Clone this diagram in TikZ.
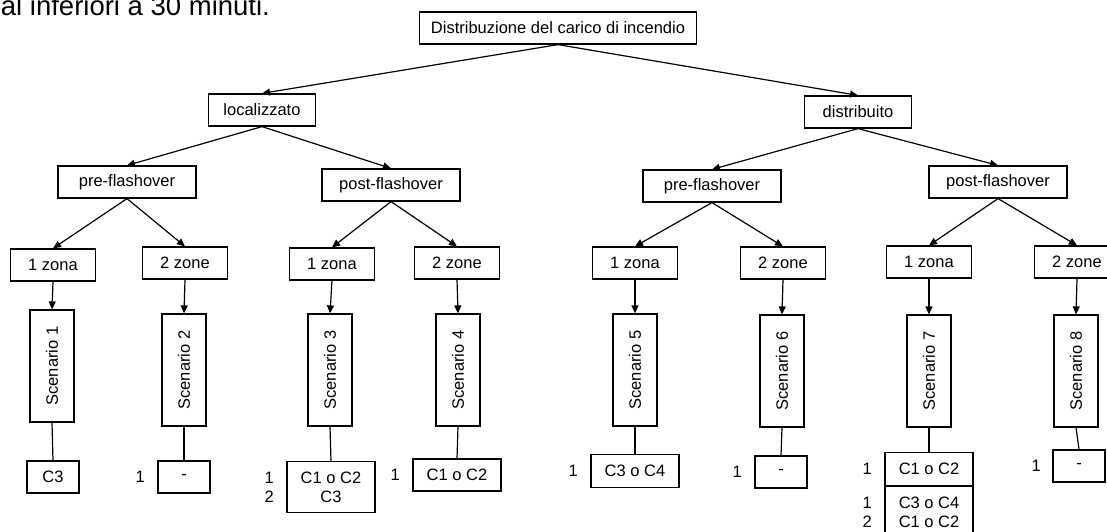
\documentclass[tikz,border=0pt]{standalone}
\usepackage{fontspec}
\setmainfont{Liberation Sans}
\usepackage{graphicx}
\usetikzlibrary{positioning,arrows.meta}

\tikzset{
	box/.style={draw, rectangle, line width=1.2pt, inner sep=0pt, minimum height=32pt, align=center},
	level/.style={box, minimum width=107pt},
	phase/.style={box, minimum width=138pt},
	zona/.style={box, minimum width=85pt},
	scen/.style={box, minimum width=44pt, minimum height=112pt},
	res/.style={box, minimum width=52pt},
	wideres/.style={box, minimum width=88pt},
	num/.style={inner sep=0pt, align=left},
}

\begin{document}
\begin{tikzpicture}[->, >={Triangle[length=8pt,width=7pt]}, x=1pt, y=-1pt, line width=1.2pt, font=\fontsize{16.5}{19}\selectfont]
		\useasboundingbox (0,0) rectangle (1107,531);
		\clip (0,0) rectangle (1107,531);

		\node[anchor=base west, font=\fontsize{27.5}{32}\selectfont] (intro) at (-3,15) {al inferiori a 30 minuti.};

		\node[box, minimum width=277pt] (root) at (558,28) {Distribuzione del carico di incendio};

		\node[level] (loc) at (262,110) {localizzato};
		\node[level] (dist) at (858,112) {distribuito};

		\node[phase] (lpre) at (127,182) {pre-flashover};
		\node[phase] (lpost) at (391,185) {post-flashover};
		\node[phase] (dpre) at (712,186) {pre-flashover};
		\node[phase] (dpost) at (998,182) {post-flashover};

		\node[zona] (z1) at (53,265) {1 zona};
		\node[zona] (z2) at (185,263) {2 zone};
		\node[zona] (z3) at (332,264) {1 zona};
		\node[zona] (z4) at (457,263) {2 zone};
		\node[zona] (z5) at (635,263) {1 zona};
		\node[zona] (z6) at (783,263) {2 zone};
		\node[zona] (z7) at (929,262) {1 zona};
		\node[zona] (z8) at (1077,262) {2 zone};

		\node[scen] (s1) at (52,366) {\rotatebox{90}{Scenario 1}};
		\node[scen] (s2) at (184,370) {\rotatebox{90}{Scenario 2}};
		\node[scen] (s3) at (330,370) {\rotatebox{90}{Scenario 3}};
		\node[scen] (s4) at (458,370) {\rotatebox{90}{Scenario 4}};
		\node[scen] (s5) at (635,370) {\rotatebox{90}{Scenario 5}};
		\node[scen] (s6) at (782,371) {\rotatebox{90}{Scenario 6}};
		\node[scen] (s7) at (929,371) {\rotatebox{90}{Scenario 7}};
		\node[scen] (s8) at (1076,371) {\rotatebox{90}{Scenario 8}};

		\node[res] (r1) at (53,477) {C3};
		\node[res] (r2) at (184,477) {-};
		\node[wideres, minimum height=51pt] (r3) at (331,487) {C1 o C2\\C3};
		\node[wideres] (r4) at (457,475) {C1 o C2};
		\node[wideres, minimum height=33pt] (r5) at (635,471) {C3 o C4};
		\node[res] (r6) at (781,472) {-};
		\node[wideres, minimum height=33pt] (r7) at (929,469) {C1 o C2};
		\node[wideres, minimum height=52pt, below=0pt of r7] (r7b) {C3 o C4\\C1 o C2};
		\node[res] (r8) at (1079,466) {-};

		\node[num, left=12pt of r2] (n2) {1};
		\node[num, left=12pt of r3] (n3) {1\\2};
		\node[num, left=12pt of r4] (n4) {1};
		\node[num, left=12pt of r5] (n5) {1};
		\node[num, left=12pt of r6] (n6) {1};
		\node[num, left=12pt of r7] (n7) {1};
		\node[num, left=12pt of r7b] (n7b) {1\\2};
		\node[num, left=11pt of r8] (n8) {1};

		\path (root.south) edge (loc.north);
		\path (root.south) edge (dist.north);

		\path (loc.south) edge (lpre.north);
		\path (loc.south) edge (lpost.north);
		\path (dist.south) edge (dpre.north);
		\path (dist.south) edge (dpost.north);

		\path (lpre.south) edge (z1.north);
		\path (lpre.south) edge (z2.north);
		\path (lpost.south) edge (z3.north);
		\path (lpost.south) edge (z4.north);
		\path (dpre.south) edge (z5.north);
		\path (dpre.south) edge (z6.north);
		\path (dpost.south) edge (z7.north);
		\path (dpost.south) edge (z8.north);

		\path (z1.south) edge (s1.north);
		\path (z2.south) edge (s2.north);
		\path (z3.south) edge (s3.north);
		\path (z4.south) edge (s4.north);
		\path (z5.south) edge (s5.north);
		\path (z6.south) edge (s6.north);
		\path (z7.south) edge (s7.north);
		\path (z8.south) edge (s8.north);

		\path (s1.south) edge[-] (r1.north);
		\path (s2.south) edge[-] (r2.north);
		\path (s3.south) edge[-] (r3.north);
		\path (s4.south) edge[-] (r4.north);
		\path (s5.south) edge[-] (r5.north);
		\path (s6.south) edge[-] (r6.north);
		\path (s7.south) edge[-] (r7.north);
		\path (s8.south) edge[-] (r8.north);
	\end{tikzpicture}
\end{document}
